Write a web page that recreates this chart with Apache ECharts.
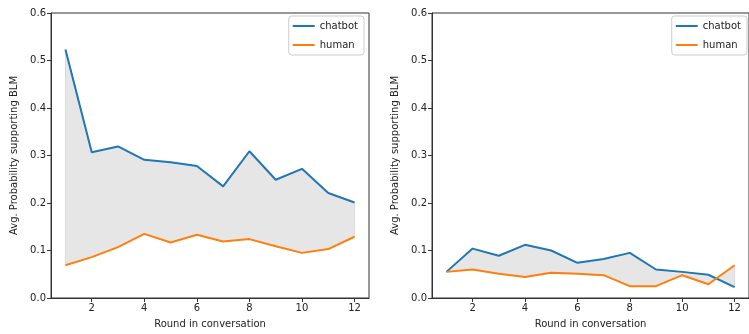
<!DOCTYPE html>
<html>
<head>
<meta charset="utf-8">
<script src="https://cdn.jsdelivr.net/npm/echarts@6/dist/echarts.min.js"></script>
<style>
html,body{margin:0;padding:0;background:#fff;}
#c{width:749px;height:334px;}
</style>
</head>
<body>
<div id="c"></div>
<script>
// ---- data ----
var rounds = [1,2,3,4,5,6,7,8,9,10,11,12];
var leftChatbot = [0.523,0.307,0.319,0.291,0.286,0.278,0.235,0.309,0.249,0.272,0.221,0.201];
var leftHuman   = [0.069,0.086,0.107,0.135,0.117,0.133,0.119,0.124,0.109,0.095,0.103,0.129];
var rightChatbot = [0.055,0.104,0.089,0.112,0.100,0.074,0.082,0.095,0.060,0.055,0.049,0.023];
var rightHuman   = [0.055,0.060,0.051,0.044,0.053,0.051,0.048,0.025,0.025,0.048,0.029,0.069];
var xTicks = [2,4,6,8,10,12];
var yTicks = [0,0.1,0.2,0.3,0.4,0.5,0.6];
var seriesNames = ['chatbot','human'];
var xLabel = 'Round in conversation';
var yLabel = 'Avg. Probability supporting BLM';

var FONT = 'DejaVu Sans';
var BLUE = '#1f77b4', ORANGE = '#ff7f0e';

function pairs(xs, ys){ return xs.map(function(x,i){ return [x, ys[i]]; }); }

function fillSeries(idx, upper, lower){
  return {
    type:'custom', xAxisIndex:idx, yAxisIndex:idx, z:1, silent:true,
    data:[[rounds[0], lower[0]]],
    renderItem:function(params, api){
      var pts = [];
      for (var i=0;i<rounds.length;i++) pts.push(api.coord([rounds[i], upper[i]]));
      for (var j=rounds.length-1;j>=0;j--) pts.push(api.coord([rounds[j], lower[j]]));
      return {type:'polygon', shape:{points:pts},
        style:{fill:'rgba(128,128,128,0.2)', stroke:'rgba(128,128,128,0.2)', lineWidth:1}};
    }
  };
}
function lineSeries(idx, name, xs, ys, color){
  return {type:'line', name:name, xAxisIndex:idx, yAxisIndex:idx, z:3,
    data:pairs(xs, ys), showSymbol:false, symbol:'none',
    lineStyle:{color:color, width:2}, itemStyle:{color:color}, animation:false};
}
function xAxis(idx){
  return {type:'value', gridIndex:idx, min:0.45, max:12.55,
    name:xLabel, nameLocation:'middle', nameGap:21,
    nameTextStyle:{fontFamily:FONT, fontSize:10, color:'#222'},
    axisLine:{show:true, lineStyle:{color:'#333', width:1}},
    axisTick:{show:true, inside:false, length:4, customValues:xTicks, lineStyle:{color:'#333'}},
    axisLabel:{customValues:xTicks, fontFamily:FONT, fontSize:10, color:'#222', margin:5},
    splitLine:{show:false}};
}
function yAxis(idx){
  return {type:'value', gridIndex:idx, min:0, max:0.6, interval:0.1,
    name:yLabel, nameLocation:'middle', nameGap:32,
    nameTextStyle:{fontFamily:FONT, fontSize:10, color:'#222'},
    axisLine:{show:true, lineStyle:{color:'#333', width:1}},
    axisTick:{show:true, inside:false, length:4, lineStyle:{color:'#333'}},
    axisLabel:{fontFamily:FONT, fontSize:10, color:'#222', margin:5,
      formatter:function(v){ return v.toFixed(1); }},
    splitLine:{show:false}};
}
function legend(right){
  return {show:true, orient:'vertical', top:16, right:right,
    data:seriesNames.map(function(n){ return {name:n, icon:'rect'}; }),
    itemWidth:22, itemHeight:2, itemGap:9,
    padding:[5,6,5,4], borderColor:'#ccc', borderWidth:1, borderRadius:3,
    backgroundColor:'rgba(255,255,255,0.8)',
    textStyle:{fontFamily:FONT, fontSize:10, color:'#222'}};
}

var chart = echarts.init(document.getElementById('c'), null, {renderer:'canvas'});
chart.setOption({
  animation:false,
  backgroundColor:'#fff',
  grid:[
    {left:51, top:13, width:318, height:285, show:true, borderColor:'#333', borderWidth:1, backgroundColor:'transparent'},
    {left:432, top:13, width:318, height:285, show:true, borderColor:'#333', borderWidth:1, backgroundColor:'transparent'}
  ],
  xAxis:[xAxis(0), xAxis(1)],
  yAxis:[yAxis(0), yAxis(1)],
  legend:[legend(749-364), legend(2)],
  series:[
    fillSeries(0, leftChatbot, leftHuman),
    lineSeries(0, seriesNames[0], rounds, leftChatbot, BLUE),
    lineSeries(0, seriesNames[1], rounds, leftHuman, ORANGE),
    fillSeries(1, rightChatbot, rightHuman),
    lineSeries(1, seriesNames[0], rounds, rightChatbot, BLUE),
    lineSeries(1, seriesNames[1], rounds, rightHuman, ORANGE)
  ]
});
</script>
</body>
</html>
